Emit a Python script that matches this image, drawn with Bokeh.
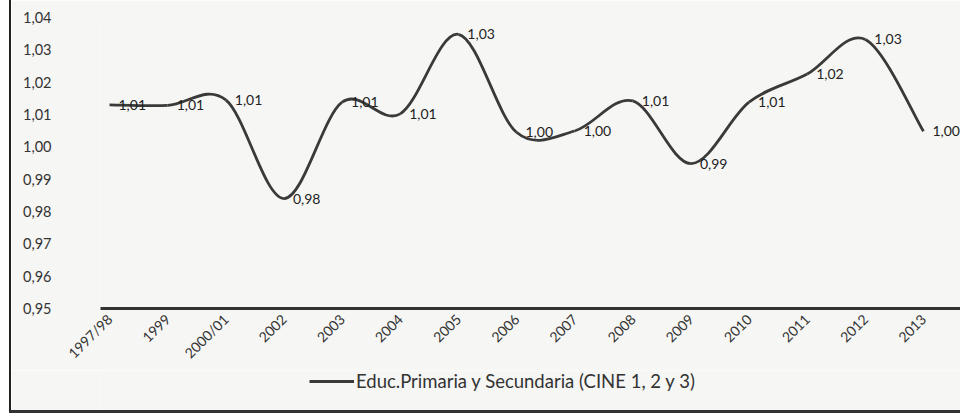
import math
import numpy as np
from bokeh.plotting import figure
from bokeh.layouts import column
from bokeh.models import (Range1d, FixedTicker, CustomJSTickFormatter, Legend,
                          LegendItem, ColumnDataSource, LabelSet)
from bokeh.embed import file_html
from bokeh.resources import INLINE
from bokeh.core.properties import value

# ---------------- data ----------------
years = ["1997/98", "1999", "2000/01", "2002", "2003", "2004", "2005", "2006",
         "2007", "2008", "2009", "2010", "2011", "2012", "2013"]
ratio = [1.0130, 1.0128, 1.0145, 0.9840, 1.0138, 1.0102, 1.0348, 1.0045,
         1.0049, 1.0142, 0.9948, 1.0138, 1.0225, 1.0332, 1.0048]
y_ticks = [0.95, 0.96, 0.97, 0.98, 0.99, 1.00, 1.01, 1.02, 1.03, 1.04]
series_name = "Educ.Primaria y Secundaria (CINE 1, 2 y 3)"

FONT = "Lato"
INK = "#333333"
LINE = "#3a3a3a"
BG = "#f6f6f4"

x = np.arange(len(years), dtype=float)
y = np.array(ratio)

# smooth curve (Catmull-Rom -> cubic Bezier control points)
n = len(x)
x0, y0, x1, y1, cx0, cy0, cx1, cy1 = ([] for _ in range(8))
for i in range(n - 1):
    pm = i - 1 if i > 0 else 0
    pn = i + 2 if i + 2 < n else n - 1
    x0.append(x[i]); y0.append(y[i]); x1.append(x[i + 1]); y1.append(y[i + 1])
    cx0.append(x[i] + (x[i + 1] - x[pm]) / 6.0)
    cy0.append(y[i] + (y[i + 1] - y[pm]) / 6.0)
    cx1.append(x[i + 1] - (x[pn] - x[i]) / 6.0)
    cy1.append(y[i + 1] - (y[pn] - y[i]) / 6.0)

p = figure(width=949, height=370, output_backend="svg", toolbar_location=None,
           x_range=Range1d(-0.155, 14.637), y_range=Range1d(0.95, 1.04),
           min_border_left=89, min_border_right=0, min_border_top=17,
           min_border_bottom=60,
           background_fill_color=BG, border_fill_color=BG)
p.outline_line_color = None
p.xgrid.visible = False
p.ygrid.visible = False

p.bezier(x0=x0, y0=y0, x1=x1, y1=y1, cx0=cx0, cy0=cy0, cx1=cx1, cy1=cy1,
         line_color=LINE, line_width=2.8)

labels_src = ColumnDataSource(dict(x=x, y=y,
                                   t=[f"{v:.2f}".replace(".", ",") for v in ratio]))
p.add_layout(LabelSet(x="x", y="y", text="t", source=labels_src, x_offset=9,
                      text_baseline="middle", text_align="left",
                      text_font=value(FONT), text_font_size="14px",
                      text_color="#222222"))

# y axis
ya = p.yaxis[0]
ya.ticker = FixedTicker(ticks=y_ticks)
ya.formatter = CustomJSTickFormatter(code="return tick.toFixed(2).replace('.', ',');")
ya.axis_line_color = None
ya.major_tick_line_color = None
ya.minor_tick_line_color = None
ya.major_tick_out = 0
ya.major_label_standoff = 49
ya.major_label_text_font = FONT
ya.major_label_text_font_size = "14.5px"
ya.major_label_text_color = INK

# x axis
xa = p.xaxis[0]
xa.ticker = FixedTicker(ticks=list(range(len(years))))
xa.major_label_overrides = {i: years[i] for i in range(len(years))}
xa.major_label_orientation = math.pi / 4
xa.axis_line_color = INK
xa.axis_line_width = 3
xa.major_tick_line_color = None
xa.minor_tick_line_color = None
xa.major_tick_out = 0
xa.major_label_standoff = 8
xa.major_label_text_font = FONT
xa.major_label_text_font_size = "14px"
xa.major_label_text_color = INK

# legend strip below the chart
pl = figure(width=949, height=40, output_backend="svg", toolbar_location=None,
            x_range=Range1d(0, 1), y_range=Range1d(0, 1),
            x_axis_location=None, y_axis_location=None,
            min_border_left=0, min_border_right=0, min_border_top=0,
            min_border_bottom=0,
            background_fill_color=BG, border_fill_color=BG)
pl.outline_line_color = None
pl.grid.visible = False
legend_line = pl.line(x=[np.nan], y=[np.nan], line_color=LINE, line_width=2.8)
legend = Legend(items=[LegendItem(label=series_name, renderers=[legend_line])],
                orientation="horizontal", location=(209, 18),
                border_line_color=None, background_fill_alpha=0,
                glyph_width=45, label_standoff=2, padding=0, margin=0,
                label_text_font=FONT, label_text_font_size="18.5px",
                label_text_color=INK)
pl.add_layout(legend, "center")

layout = column(p, pl, spacing=0,
                styles={"margin-left": "9px", "border-left": "2px solid #222",
                        "border-bottom": "3px solid #333"})

open("out.html", "w").write(file_html(layout, INLINE))
